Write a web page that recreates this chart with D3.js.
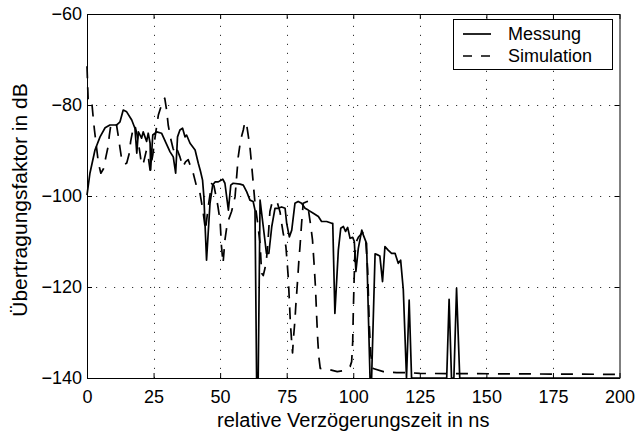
<!DOCTYPE html>
<html><head><meta charset="utf-8">
<script src="https://cdn.jsdelivr.net/npm/d3@7"></script>
<style>
body{margin:0;background:#fff}
text{font-family:"Liberation Sans",Arial,Helvetica,sans-serif;fill:#000}
</style>
</head><body><svg id="chart" width="637" height="437"></svg>
<script>
// ---- data ----
const xTicks = [0, 25, 50, 75, 100, 125, 150, 175, 200];
const yTicks = [-140, -120, -100, -80, -60];
const seriesNames = ["Messung", "Simulation"];

const messT = [0,1.1,3,4.9,6.8,8.6,11.1,12.4,13.6,14.9,16.8,18,18.7,19.3,20.5,21.1,22.4,23,23.7,23.9,24.7,26.2,28,29.7,31.2,32.4,33.3,34,34.9,35.9,36.8,37.4,38.7,40.6,41.8,42.6,43.4,43.9,44.9,46.2,47.2,48.1,49.3,51,51.8,53.1,54,54.9,57.5,58.7,60,61.2,62.4,63.1,63.7,64.3,65,66.2,67.4,68.3,69.4,70.6,71.8,73.1,74.4,75,76,76.9,78.1,79.3,80.6,81.9,83.1,85,86.9,88.1,90,91.9,92.3,93.1,94.4,95.3,96.3,97.1,97.9,98.8,99.8,100.4,101,101.9,103.2,103.8,105,105.6,106.3,106.9,108.2,109.4,110,111,111.9,113.1,114.4,115.7,116.9,117.8,118.8,120,121,121.9,135.1,136,136.9,137.8,138.8,140,200];
const messDB = [-99.8,-95,-89.9,-87,-85,-84.4,-84.4,-83.7,-81.1,-81.5,-83.3,-85.1,-90.6,-85.9,-87.3,-85.9,-88,-86.2,-88.4,-94.3,-86.6,-85.9,-86.2,-88.4,-90.3,-91.4,-95,-87,-85.5,-85.1,-87,-86.6,-88.4,-89.9,-92.8,-94.5,-96.5,-100.2,-114.1,-101.6,-97.6,-96.9,-96.9,-96.3,-97.2,-103.1,-97.6,-97.2,-97.4,-97.6,-99.1,-100.9,-101.2,-103.1,-140,-140,-100.9,-106.7,-112.6,-112.6,-106.7,-102.7,-102.7,-102.4,-102.7,-106,-109,-107.5,-101.6,-101.2,-101.6,-102.7,-103.1,-103.8,-104.5,-105.6,-105.6,-106,-106,-125.8,-111.9,-107.1,-106.7,-107.8,-106.9,-109.3,-109.1,-110,-116.6,-111.5,-107.5,-108.6,-110.4,-124.3,-140,-140,-112.7,-113,-113.2,-118.8,-111.1,-111.9,-112.6,-112.6,-114.8,-114.1,-120.6,-140,-122.9,-140,-140,-122.7,-140,-140,-120.3,-140,-140];

const simT = [0,0.5,1.9,2.3,2.8,4.3,5.2,6.2,7.1,7.9,8.4,9,10,11.1,11.8,12.4,13,14,14.9,15.9,16.4,17.2,18,18.8,19.9,20.5,21.3,22.3,23,23.7,24.7,25.7,26.8,28,28.7,29.2,29.9,30.5,31.4,32.3,33.2,34,34.9,36,37,38,38.7,39.9,41.2,42.4,43.5,44.5,45.5,46.8,47.7,49.1,50,50.5,51.1,51.8,52.7,54.3,55.6,56.2,56.8,57.7,58.7,59.3,60,61.2,61.8,62.4,63.1,64,65,65.6,66.2,66.8,67.4,68,68.7,69.5,70.5,71.5,72.5,73.1,73.7,74.7,75.2,75.6,76,76.4,76.9,77.2,77.5,78.1,78.4,79.1,79.6,80,80.6,81.2,82.7,84,84.7,85.3,85.8,86.3,86.7,87.1,87.6,91.3,94,96.3,98.8,99.4,99.8,100,100.3,100.6,101.2,102,103.5,104.7,105.4,106,106.6,107.5,111.3,116.3,120.7,125,200];
const simDB = [-71.5,-80,-80,-82.6,-85.5,-92.8,-95,-94,-91.4,-89.2,-86.6,-84.2,-83.8,-84.4,-87,-89.5,-91.8,-93,-92.8,-90.6,-88,-85.5,-84.5,-86.5,-90.6,-93.2,-92.5,-90,-91.4,-94.3,-91,-86.5,-82.2,-80,-78.9,-78.5,-81.1,-84.4,-87.3,-89.5,-91,-90,-91.4,-93.6,-92.5,-92,-93.2,-95,-98,-99.3,-103,-107.5,-102.5,-97.3,-97.8,-102,-105.5,-111,-114.8,-109.7,-106,-103.4,-100.2,-95.8,-91.4,-87.7,-85.5,-83.7,-84.5,-89.2,-93,-96.9,-101.6,-105.5,-110.4,-117,-117.5,-116,-114,-109.7,-103.4,-101.5,-101,-101.5,-103.5,-106,-108.2,-111.1,-114.8,-118,-123,-128,-132.3,-134.5,-131.6,-127.3,-124.3,-118.5,-114,-111.1,-106,-101.6,-101.2,-106.4,-109.7,-115,-120,-127,-132,-135.5,-137.9,-138.2,-138.6,-138.4,-137.5,-136.4,-132,-126,-119,-113,-110,-109,-108,-110,-116,-128,-135,-137.9,-138.6,-138.8,-138.8,-139,-139.2];

// ---- layout ----
const L = 87, R = 619.5, T = 14, B = 378;
const svg = d3.select("#chart");
const x = d3.scaleLinear().domain([0, 200]).range([L, R]);
const y = d3.scaleLinear().domain([-140, -60]).range([B, T]);

// grid
const grid = svg.append("g").attr("stroke", "#333").attr("stroke-width", 1).attr("stroke-dasharray", "1.2,7.8");
grid.selectAll("line.vx").data(xTicks.slice(1, -1)).enter().append("line")
  .attr("x1", d => Math.round(x(d)) + 0.5).attr("x2", d => Math.round(x(d)) + 0.5)
  .attr("y1", B).attr("y2", T);
grid.selectAll("line.hy").data(yTicks.slice(1, -1)).enter().append("line")
  .attr("y1", d => Math.round(y(d)) + 0.5).attr("y2", d => Math.round(y(d)) + 0.5)
  .attr("x1", L).attr("x2", R);

// lines
const line = d3.line().x(d => x(d[0])).y(d => y(d[1]));
svg.append("path").datum(d3.zip(simT, simDB)).attr("d", line)
  .attr("fill", "none").attr("stroke", "#000").attr("stroke-width", 1.7)
  .attr("stroke-dasharray", "12,9").attr("stroke-linejoin", "round");
svg.append("path").datum(d3.zip(messT, messDB)).attr("d", line)
  .attr("fill", "none").attr("stroke", "#000").attr("stroke-width", 1.7)
  .attr("stroke-linejoin", "round");

// axes
const fs = 18;
const gx = svg.append("g").attr("transform", `translate(0,${B})`)
  .call(d3.axisBottom(x).tickValues(xTicks).tickSizeInner(-5).tickSizeOuter(0).tickPadding(12));
const gy = svg.append("g").attr("transform", `translate(${L},0)`)
  .call(d3.axisLeft(y).tickValues(yTicks).tickSizeInner(-5).tickSizeOuter(0).tickPadding(5));
const gt = svg.append("g").attr("transform", `translate(0,${T})`)
  .call(d3.axisTop(x).tickValues(xTicks).tickSizeInner(-5).tickSizeOuter(0).tickFormat(""));
const gr = svg.append("g").attr("transform", `translate(${R},0)`)
  .call(d3.axisRight(y).tickValues(yTicks).tickSizeInner(-5).tickSizeOuter(0).tickFormat(""));
[gx, gy, gt, gr].forEach(g => {
  g.selectAll("path.domain").attr("stroke", "#000").attr("stroke-width", 1);
  g.selectAll(".tick line").attr("stroke", "#000");
  g.selectAll("text").attr("font-size", fs).attr("font-family", "Liberation Sans, Arial, sans-serif").attr("fill", "#000");
});

// axis labels
svg.append("text").attr("x", (L + R) / 2).attr("y", 427).attr("text-anchor", "middle")
  .attr("font-size", 20).text("relative Verzögerungszeit in ns");
svg.append("text").attr("transform", `translate(27,${(T + B) / 2 + 4}) rotate(-90)`)
  .attr("text-anchor", "middle").attr("font-size", 21).text("Übertragungsfaktor in dB");

// legend
const lg = svg.append("g");
lg.append("rect").attr("x", 453.5).attr("y", 19.5).attr("width", 159).attr("height", 50)
  .attr("fill", "#fff").attr("stroke", "#000").attr("stroke-width", 1);
const rows = [{name: seriesNames[0], dash: null, yy: 34}, {name: seriesNames[1], dash: "9,9", yy: 56}];
rows.forEach(r => {
  lg.append("line").attr("x1", 463).attr("x2", 491).attr("y1", r.yy).attr("y2", r.yy)
    .attr("stroke", "#000").attr("stroke-width", 1.7).attr("stroke-dasharray", r.dash);
  lg.append("text").attr("x", 508).attr("y", r.yy).attr("dy", "0.35em").attr("font-size", 18).text(r.name);
});
</script>
</body></html>
